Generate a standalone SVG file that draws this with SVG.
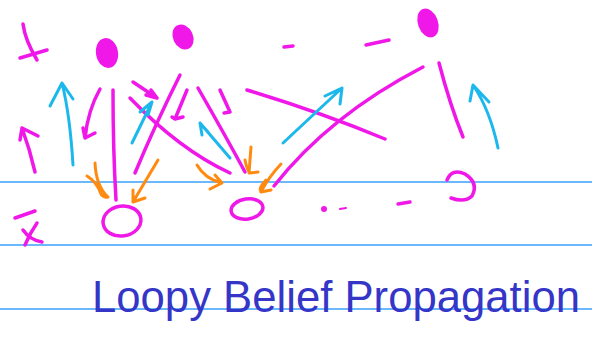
<svg xmlns="http://www.w3.org/2000/svg" width="592" height="341" viewBox="0 0 592 341">
<style>
.rule{stroke:#3aa0ff;stroke-width:1.5;fill:none}
.m{stroke:#f018e8;stroke-width:3.5;fill:none;stroke-linecap:round;stroke-linejoin:round}
.c{stroke:#1cb8ec;stroke-width:3;fill:none;stroke-linecap:round;stroke-linejoin:round}
.o{stroke:#ff8a10;stroke-width:3;fill:none;stroke-linecap:round;stroke-linejoin:round}
.fill{fill:#f018e8;stroke:#f018e8;stroke-width:2}
.title{font-family:"Liberation Sans",Arial,sans-serif;font-size:44px;fill:#3535c8}
</style>
<rect width="592" height="341" fill="#ffffff"/>
<g id="rules">
<line class="rule" x1="0" y1="182" x2="592" y2="182"/>
<line class="rule" x1="0" y1="245" x2="592" y2="245"/>
<line class="rule" x1="0" y1="309" x2="592" y2="309"/>
</g>
<g id="node-top-left-mark">
<path class="m" d="M23,24 Q25,40 37,60"/>
<path class="m" d="M20,58 L47,50"/>
</g>
<g id="node-a"><ellipse class="fill" cx="107" cy="53" rx="10" ry="14" transform="rotate(-10 107 53)"/></g>
<g id="node-b"><ellipse class="fill" cx="183" cy="37" rx="9" ry="12" transform="rotate(-25 183 37)"/></g>
<g id="node-c"><ellipse class="fill" cx="428" cy="23" rx="9" ry="14" transform="rotate(-20 428 23)"/></g>
<g id="node-bottom-left-mark">
<path class="m" d="M15,218 L35,211"/>
<path class="m" d="M37,223 Q30,233 25,245"/>
<path class="m" d="M23,230 Q30,240 42,242"/>
</g>
<g id="node-d"><ellipse class="m" cx="122" cy="221" rx="19" ry="15" transform="rotate(-8 122 221)"/></g>
<g id="node-e"><ellipse class="m" cx="247" cy="209" rx="16" ry="10" transform="rotate(-8 247 209)"/></g>
<g id="node-f"><path class="m" d="M447,180 Q452,168 465,174 Q479,183 472,196 Q465,203 451,198"/></g>
<g id="dashes">
<path class="m" d="M284,47 L293,46"/>
<path class="m" d="M366,45 L389,40"/>
<circle cx="324" cy="209" r="3" fill="#f018e8"/>
<path class="m" d="M340,209 L346,208" style="stroke-width:2"/>
<path class="m" d="M398,204 L410,202"/>
</g>
<g id="connectors">
<path class="m" d="M35,172 Q30,150 22,128 M22,128 L20,140 M22,128 L38,136"/>
<path class="m" d="M100,89 Q88,110 85,138 M85,138 L83,128 M85,138 L95,133"/>
<path class="m" d="M113,90 Q113,150 116,200"/>
<path class="m" d="M180,75 Q155,125 135,173"/>
<path class="m" d="M130,98 Q180,150 230,173"/>
<path class="m" d="M133,82 L157,98 M157,98 L146,95 M157,98 L151,90"/>
<path class="m" d="M187,90 L175,119 M175,119 L172,117 M175,119 L183,117"/>
<path class="m" d="M198,88 Q225,135 245,172"/>
<path class="m" d="M220,90 L230,112 M230,112 L224,113"/>
<path class="m" d="M247,90 Q320,112 385,139"/>
<path class="m" d="M423,67 Q330,115 274,186"/>
<path class="m" d="M439,63 Q450,105 463,137"/>
<path class="c" d="M73,165 Q70,115 62,83 M62,83 L50,106 M62,83 L73,99"/>
<path class="c" d="M132,143 L152,102 M152,102 L140,112 M152,102 L148,115"/>
<path class="c" d="M230,158 L200,123 M200,123 L202,135 M200,123 L208,132"/>
<path class="c" d="M283,143 L342,88 M342,88 L325,96 M342,88 L340,104"/>
<path class="c" d="M498,148 Q490,110 473,85 M473,85 L470,101 M473,85 L489,102"/>
<path class="o" d="M95,163 Q96,186 108,197 M87,176 Q97,182 101,194 Q104,198 108,197"/>
<path class="o" d="M158,160 L133,202 M133,190 L133,202 L145,198"/>
<path class="o" d="M197,165 Q205,179 222,183 M215,175 L222,183 L210,189"/>
<path class="o" d="M251,147 L249,173 M245,160 Q247,170 250,173 L258,172"/>
<path class="o" d="M281,164 Q268,178 261,192 M266,180 Q258,188 261,192 L271,190"/>
</g>
<g id="title">
<text class="title" x="92" y="312" textLength="488" lengthAdjust="spacingAndGlyphs">Loopy Belief Propagation</text>
</g>
</svg>
